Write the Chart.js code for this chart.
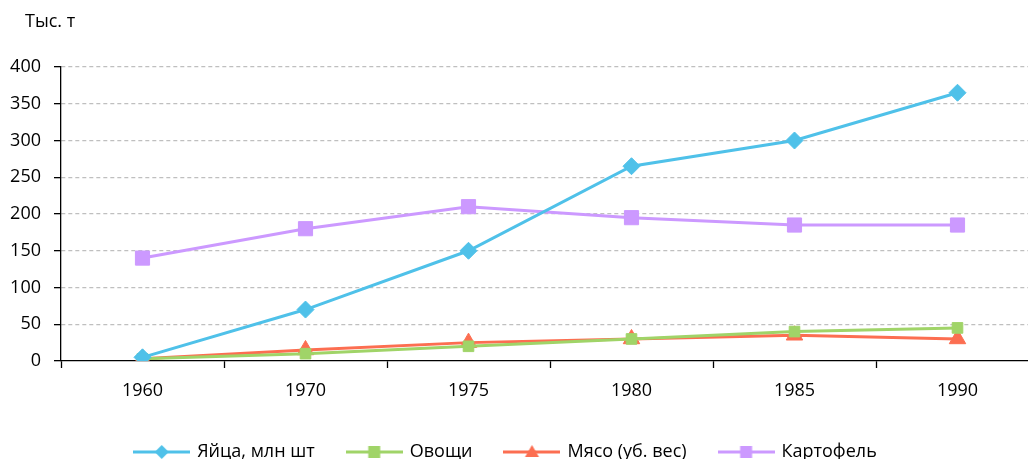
<!DOCTYPE html>
<html>
<head>
<meta charset="utf-8">
<script src="https://cdn.jsdelivr.net/npm/chart.js@4.4.1/dist/chart.umd.min.js"></script>
<style>
  html, body { margin: 0; padding: 0; overflow: hidden; background: #fff; width: 1028px; height: 459px; }
  #wrap { position: absolute; left: -27px; top: 0; width: 1066px; height: 459px; }
</style>
</head>
<body>
<div id="wrap"><canvas id="chart" width="1066" height="459"></canvas></div>
<script>
// data
const years = ['1960', '1970', '1975', '1980', '1985', '1990'];
const eggs = [5, 70, 150, 265, 300, 365];
const vegetables = [3, 10, 20, 30, 40, 45];
const meat = [3, 15, 25, 30, 35, 30];
const potatoes = [140, 180, 210, 195, 185, 185];
const seriesNames = ['Яйца, млн шт', 'Овощи', 'Мясо (уб. вес)', 'Картофель'];
const unitLabel = 'Тыс. т';

const colors = ['#4fc1e9', '#a0d468', '#fc6e51', '#cc99ff'];
const FONT = '"Open Sans", "Noto Sans", sans-serif';

// small line + marker picture for the legend
function legendIcon(color, style) {
  const c = document.createElement('canvas');
  c.width = 57; c.height = 20;
  const ctx = c.getContext('2d');
  ctx.strokeStyle = color;
  ctx.fillStyle = color;
  ctx.lineWidth = 3;
  ctx.beginPath(); ctx.moveTo(0, 10); ctx.lineTo(57, 10); ctx.stroke();
  const x = 28.5, y = 10;
  ctx.beginPath();
  if (style === 'rectRot') {
    ctx.moveTo(x - 7, y); ctx.lineTo(x, y - 7); ctx.lineTo(x + 7, y); ctx.lineTo(x, y + 7);
  } else if (style === 'triangle') {
    ctx.moveTo(x, y - 7); ctx.lineTo(x + 7, y + 5); ctx.lineTo(x - 7, y + 5);
  } else {
    ctx.rect(x - 6, y - 6, 12, 12);
  }
  ctx.closePath();
  ctx.fill();
  return c;
}

const styles = ['rectRot', 'rect', 'triangle', 'rect'];
const radii = [8.5, 7.5, 9.5, 10];
const values = [eggs, vegetables, meat, potatoes];
const icons = styles.map((s, i) => legendIcon(colors[i], s));

const unitPlugin = {
  id: 'unitLabel',
  afterDraw(chart) {
    const ctx = chart.ctx;
    ctx.save();
    ctx.font = '18px ' + FONT;
    ctx.fillStyle = '#000';
    ctx.textBaseline = 'middle';
    ctx.fillText(unitLabel, 52, 22);
    ctx.restore();
  }
};

new Chart(document.getElementById('chart'), {
  type: 'line',
  data: {
    labels: years,
    datasets: seriesNames.map((name, i) => ({
      label: name,
      data: values[i],
      borderColor: colors[i],
      backgroundColor: colors[i],
      borderWidth: 3,
      pointStyle: styles[i],
      pointRadius: radii[i],
      pointHoverRadius: radii[i],
      pointBorderWidth: 1,
      pointBorderColor: colors[i],
      pointBackgroundColor: colors[i],
      tension: 0,
      fill: false
    }))
  },
  options: {
    responsive: false,
    animation: false,
    layout: { autoPadding: false, padding: { top: 67, left: 0, right: 0, bottom: 0 } },
    plugins: {
      tooltip: { enabled: false },
      legend: {
        position: 'bottom',
        maxHeight: 49,
        labels: {
          usePointStyle: true,
          pointStyleWidth: 53,
          padding: 33,
          color: '#000',
          font: { family: FONT, size: 18 },
          generateLabels: chart => Chart.defaults.plugins.legend.labels.generateLabels(chart)
            .map((l, i) => Object.assign(l, { pointStyle: icons[i] }))
        }
      }
    },
    scales: {
      x: {
        offset: true,
        grid: {
          offset: true,
          drawOnChartArea: false,
          drawTicks: true,
          tickLength: 7,
          tickColor: '#000',
          tickWidth: 1.3
        },
        border: { color: '#000', width: 1.3 },
        ticks: { color: '#000', font: { family: FONT, size: 18 }, padding: 12, maxRotation: 0 },
        afterFit(scale) { scale.height = 49; }
      },
      y: {
        min: 0,
        max: 400,
        ticks: { stepSize: 50, color: '#000', font: { family: FONT, size: 18 }, padding: 13 },
        grid: {
          color: ctx => ctx.tick && ctx.tick.value === 0 ? 'rgba(0,0,0,0)' : '#bfbfbf',
          lineWidth: 1.3,
          tickLength: 7,
          tickColor: '#000',
          tickWidth: 1.3,
          tickBorderDash: []
        },
        border: { color: '#000', width: 1.3, dash: [4, 3] },
        afterFit(scale) { scale.width = 88; }
      }
    }
  },
  plugins: [unitPlugin]
});
</script>
</body>
</html>
